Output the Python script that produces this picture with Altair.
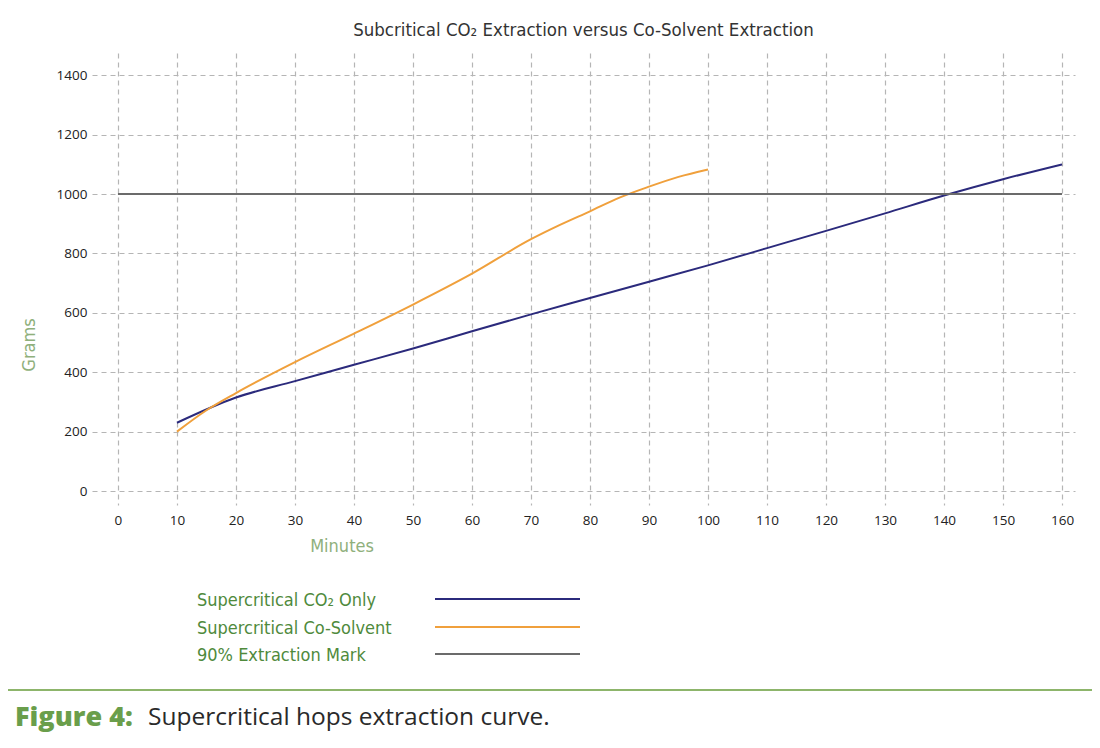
import altair as alt
import pandas as pd

# ---- data ----
co2_minutes = [10, 20, 30, 40, 50, 60, 70, 80, 90, 100, 110, 120, 130, 140, 150, 160]
co2_grams = [230, 315, 370, 425, 480, 538, 595, 650, 705, 760, 818, 876, 935, 995, 1050, 1100]

cosolvent_minutes = [10, 15, 20, 30, 40, 50, 60, 70, 75, 80, 85, 90, 95, 100]
cosolvent_grams = [200, 272, 330, 434, 530, 628, 732, 848, 897, 942, 988, 1025, 1058, 1083]

mark_minutes = [0, 160]
mark_grams = [1000, 1000]

x_ticks = list(range(0, 161, 10))
y_ticks = list(range(0, 1401, 200))

legend_labels = ["Supercritical CO\u2082 Only", "Supercritical Co-Solvent", "90% Extraction Mark"]
series_colors = ["#2b2a7c", "#f0a03c", "#6b6b6b"]

title_text = "Subcritical CO\u2082  Extraction versus Co-Solvent Extraction"
caption_bold = "Figure 4:"
caption_rest = "Supercritical hops extraction curve."

# ---- frames ----
df = pd.concat([
    pd.DataFrame({"Minutes": co2_minutes, "Grams": co2_grams, "Series": legend_labels[0]}),
    pd.DataFrame({"Minutes": cosolvent_minutes, "Grams": cosolvent_grams, "Series": legend_labels[1]}),
    pd.DataFrame({"Minutes": mark_minutes, "Grams": mark_grams, "Series": legend_labels[2]}),
])

W, H = 983, 452
xscale = alt.Scale(domain=[-4.4, 162.2], nice=False, zero=False)
yscale = alt.Scale(domain=[-47, 1475], nice=False, zero=False)

FONT = "Open Sans"
COND = "DejaVu Sans Condensed, Liberation Sans Narrow, Roboto, sans-serif"

axis_common = dict(title=None, domain=False, ticks=False, labelFontSize=13.5,
                   labelColor="#222", labelFont=FONT, grid=True, gridDash=[5, 4],
                   gridColor="#b5b5b5", gridWidth=1.2, format="d")

base = alt.Chart(df).encode(
    x=alt.X("Minutes:Q", scale=xscale,
            axis=alt.Axis(values=x_ticks, labelPadding=8, **axis_common)),
    y=alt.Y("Grams:Q", scale=yscale,
            axis=alt.Axis(values=y_ticks, labelPadding=5, **axis_common)),
    color=alt.Color("Series:N", scale=alt.Scale(domain=legend_labels, range=series_colors),
                    legend=None),
    detail="Series:N",
)

lines = base.mark_line(strokeWidth=2, interpolate="monotone")

# axis titles
annot = pd.DataFrame({"k": [0]})
ytitle = alt.Chart(annot).mark_text(text="Grams", angle=270, font=COND, fontSize=18,
                                    color="#8fb07c").encode(x=alt.value(-62), y=alt.value(292))
xtitle = alt.Chart(annot).mark_text(text="Minutes", font=COND, fontSize=18,
                                    color="#8fb07c").encode(x=alt.value(250), y=alt.value(494))

# custom legend
leg_y = [548, 576, 603]
leg_layers = []
for lab, col, yy in zip(legend_labels, series_colors, leg_y):
    leg_layers.append(
        alt.Chart(annot).mark_text(text=lab, font=COND, fontSize=18, color="#4f8a3c",
                                   align="left", baseline="middle")
        .encode(x=alt.value(105), y=alt.value(yy))
    )
    leg_layers.append(
        alt.Chart(annot).mark_rule(color=col, strokeWidth=2)
        .encode(x=alt.value(343), x2=alt.value(488), y=alt.value(yy - 2))
    )

sep = alt.Chart(annot).mark_rule(color="#8db56b", strokeWidth=2).encode(
    x=alt.value(-92), x2=alt.value(1000), y=alt.value(637))

cap1 = alt.Chart(annot).mark_text(text=caption_bold, font=FONT, fontSize=27, fontWeight=800,
                                  color="#6a9e4b", align="left", baseline="middle").encode(
    x=alt.value(-77), y=alt.value(665))
cap2 = alt.Chart(annot).mark_text(text=caption_rest, font=FONT, fontSize=24.5,
                                  color="#2a2a2a", align="left", baseline="middle").encode(
    x=alt.value(56), y=alt.value(665))

chart = alt.layer(lines, ytitle, xtitle, *leg_layers, sep, cap1, cap2).properties(
    width=W, height=H,
    title=alt.TitleParams(title_text, font=COND, fontSize=18.5, fontWeight="normal",
                          color="#333", anchor="middle", offset=14),
    autosize=alt.AutoSizeParams(type="none"),
    padding={"left": 84, "top": 45, "right": 17, "bottom": 235},
).configure_view(stroke=None)

chart.save("out.html", embed_options={"renderer": "svg", "actions": False})
